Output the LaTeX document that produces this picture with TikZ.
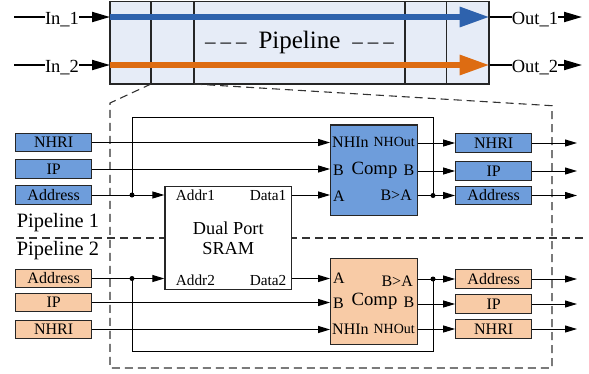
\documentclass[tikz,border=0pt]{standalone}
\usepackage{fontspec}
\setmainfont{Liberation Serif}
\usetikzlibrary{arrows.meta}
\definecolor{pipefill}{HTML}{E6ECF7}
\definecolor{blueline}{HTML}{2E62AD}
\definecolor{orangeline}{HTML}{DD6C12}
\definecolor{bluebox}{HTML}{6E9DDB}
\definecolor{orangebox}{HTML}{F8CBA6}
\definecolor{edge}{HTML}{262626}
\newcommand\fsz[1]{\fontsize{#1}{#1}\selectfont}
\begin{document}
\begin{tikzpicture}[x=1pt,y=-1pt,
  wire/.style={line width=1pt,draw=black},
  tip/.style={-{Triangle[length=12pt,width=7pt]}},
  bigtip/.style={-{Triangle[length=18pt,width=10pt]}},
  regbox/.style={draw=edge,line width=1.2pt,minimum width=76pt,minimum height=18.5pt,inner sep=0pt,font=\fsz{16}},
  bluereg/.style={regbox,fill=bluebox},
  orangereg/.style={regbox,fill=orangebox},
  compbox/.style={draw=edge,line width=1.2pt,minimum width=87pt,inner sep=0pt},
  portlab/.style={inner sep=0pt,font=\fsz{16}},
  smalllab/.style={inner sep=0pt,font=\fsz{14}},
  iolab/.style={inner sep=0pt,font=\fsz{18.5},anchor=base},
  outline/.style={line width=1.1pt,draw=black!80,dash pattern=on 8pt off 5pt},
  dot/.style={circle,fill=black,inner sep=0pt,minimum size=5pt}
]
\useasboundingbox (0,0) rectangle (589,373);

% ---------- top pipeline ----------
\node[draw=edge,line width=1.2pt,fill=pipefill,minimum width=379pt,minimum height=82.5pt,inner sep=0pt] (pipe) at (299.5,42.75) {};
\coordinate (c1t) at (151,1.5); \coordinate (c1b) at (151,84);
\coordinate (c2t) at (194,1.5); \coordinate (c2b) at (194,84);
\coordinate (c3t) at (405,1.5); \coordinate (c3b) at (405,84);
\coordinate (c4t) at (446.7,1.5); \coordinate (c4b) at (446.7,84);
\draw[line width=1.2pt,edge] (c1t) -- (c1b) (c2t) -- (c2b) (c3t) -- (c3b) (c4t) -- (c4b);
\coordinate (r1) at (110,17); \coordinate (r2) at (110,65);
\draw[line width=6pt,blueline,-{Triangle[length=30pt,width=19pt]}] (r1) -- (pipe.east |- r1);
\draw[line width=6pt,orangeline,-{Triangle[length=30pt,width=19pt]}] (r2) -- (pipe.east |- r2);
\node[inner sep=0pt,font=\fsz{25}] (pipetxt) at (299.5,42) {\fsz{21}\textendash\hspace{5pt}\textendash\hspace{5pt}\textendash\hspace{12pt}\fsz{25}Pipeline\hspace{12pt}\fsz{21}\textendash\hspace{5pt}\textendash\hspace{5pt}\textendash};

\node[iolab] (in1) at (62,24.5) {In\_1};
\node[iolab] (in2) at (62,72.5) {In\_2};
\node[iolab] (out1) at (535,24.5) {Out\_1};
\node[iolab] (out2) at (535,72.5) {Out\_2};
\coordinate (in1s) at (14,17); \coordinate (in2s) at (14,65);
\coordinate (out1e) at (582,17); \coordinate (out2e) at (582,65);
\draw[line width=2pt] (in1s) -- (in1.west |- r1);
\draw[line width=2pt,bigtip] (in1.east |- r1) -- (r1);
\draw[line width=2pt] (in2s) -- (in2.west |- r2);
\draw[line width=2pt,bigtip] (in2.east |- r2) -- (r2);
\draw[line width=2pt] (pipe.east |- r1) -- (out1.west |- r1);
\draw[line width=2pt,bigtip] (out1.east |- r1) -- (out1e);
\draw[line width=2pt] (pipe.east |- r2) -- (out2.west |- r2);
\draw[line width=2pt,bigtip] (out2.east |- r2) -- (out2e);

% ---------- zoom outline ----------
\coordinate (o1) at (110,103); \coordinate (o2) at (110,368);
\coordinate (o3) at (552,368); \coordinate (o4) at (552,105.7);
\draw[outline] (c1b) -- (o1) -- (o2) -- (o3) -- (o4) -- (c2b);
\coordinate (sepl) at (16,238); \coordinate (sepr) at (583,238);
\draw[outline] (sepl) -- (sepr);
\node[inner sep=0pt,font=\fsz{20.4},anchor=west] (pl1) at (16.7,222.7) {Pipeline 1};
\node[inner sep=0pt,font=\fsz{20.4},anchor=west] (pl2) at (16.7,250.7) {Pipeline 2};

% ---------- SRAM ----------
\node[draw=edge,line width=1.2pt,fill=white,minimum width=126.7pt,minimum height=102.6pt,inner sep=0pt] (sram) at (228.3,238) {};
\node[inner sep=0pt,font=\fsz{18.3},align=center] (sramtxt) at (228.3,238) {Dual Port\\[2pt]SRAM};
\node[portlab,font=\fsz{15.3},anchor=west] (addr1) at (175.7,195.3) {Addr1};
\node[portlab,font=\fsz{15.3},anchor=east] (data1) at (286.5,195.3) {Data1};
\node[portlab,font=\fsz{15.3},anchor=west] (addr2) at (175.7,280.5) {Addr2};
\node[portlab,font=\fsz{15.3},anchor=east] (data2) at (286.5,280.5) {Data2};

% ---------- Comp boxes ----------
\node[compbox,fill=bluebox,minimum height=90.7pt] (comp1) at (374.2,170.3) {};
\node[inner sep=0pt,font=\fsz{18.7}] (comp1t) at (374.5,170) {Comp};
\node[portlab,anchor=west] (c1nhin) at (332,142) {NHIn};
\node[smalllab,anchor=east] (c1nhout) at (415,142) {NHOut};
\node[portlab,anchor=west] (c1b) at (333,170) {B};
\node[portlab,anchor=east] (c1bo) at (414.5,170) {B};
\node[portlab,anchor=west] (c1a) at (333,196) {A};
\node[portlab,anchor=east] (c1ba) at (412,195) {B>A};

\node[compbox,fill=orangebox,minimum height=86pt] (comp2) at (374.2,301.3) {};
\node[inner sep=0pt,font=\fsz{18.7}] (comp2t) at (374.5,301) {Comp};
\node[portlab,anchor=west] (c2a) at (333,278) {A};
\node[portlab,anchor=east] (c2ba) at (413,281.5) {B>A};
\node[portlab,anchor=west] (c2b) at (333,303) {B};
\node[portlab,anchor=east] (c2bo) at (414.5,302) {B};
\node[portlab,anchor=west] (c2nhin) at (332,329) {NHIn};
\node[smalllab,anchor=east] (c2nhout) at (415,329) {NHOut};

% ---------- registers ----------
\node[bluereg] (iN1) at (53.7,142.5) {NHRI};
\node[bluereg] (iI1) at (53.7,169) {IP};
\node[bluereg] (iA1) at (53.7,195) {Address};
\node[bluereg] (oN1) at (493.7,143) {NHRI};
\node[bluereg] (oI1) at (493.7,171) {IP};
\node[bluereg] (oA1) at (493.7,195.5) {Address};

\node[orangereg] (iA2) at (53.7,278.5) {Address};
\node[orangereg] (iI2) at (53.7,302.5) {IP};
\node[orangereg] (iN2) at (53.7,329.5) {NHRI};
\node[orangereg] (oA2) at (493.7,279) {Address};
\node[orangereg] (oI2) at (493.7,304) {IP};
\node[orangereg] (oN2) at (493.7,329) {NHRI};

% ---------- wires pipeline 1 ----------
\draw[wire,tip] (iN1.east) -- (comp1.west |- iN1);
\draw[wire,tip] (iI1.east) -- (comp1.west |- iI1);
\draw[wire,tip] (iA1.east) -- (sram.west |- iA1);
\draw[wire,tip] (sram.east |- iA1) -- (comp1.west |- iA1);
\node[dot] (d1) at (132,195) {};
\node[dot] (d1r) at (433,195.5) {};
\coordinate (t1) at (132,117.3);
\draw[wire] (d1.center) -- (t1) -| (d1r.center);
\draw[wire,tip] (comp1.east |- oN1) -- (oN1.west);
\draw[wire,tip] (comp1.east |- oI1) -- (oI1.west);
\draw[wire,tip] (comp1.east |- oA1) -- (oA1.west);
\coordinate (e1) at (577,143); \coordinate (e2) at (577,171); \coordinate (e3) at (577,195.5);
\draw[wire,tip] (oN1.east) -- (e1);
\draw[wire,tip] (oI1.east) -- (e2);
\draw[wire,tip] (oA1.east) -- (e3);

% ---------- wires pipeline 2 ----------
\draw[wire,tip] (iA2.east) -- (sram.west |- iA2);
\draw[wire,tip] (sram.east |- iA2) -- (comp2.west |- iA2);
\draw[wire,tip] (iI2.east) -- (comp2.west |- iI2);
\draw[wire,tip] (iN2.east) -- (comp2.west |- iN2);
\node[dot] (d2) at (132,278.5) {};
\node[dot] (d2r) at (433,279) {};
\coordinate (t2) at (132,351.7);
\draw[wire] (d2.center) -- (t2) -| (d2r.center);
\draw[wire,tip] (comp2.east |- oA2) -- (oA2.west);
\draw[wire,tip] (comp2.east |- oI2) -- (oI2.west);
\draw[wire,tip] (comp2.east |- oN2) -- (oN2.west);
\coordinate (f1) at (577,279); \coordinate (f2) at (577,304); \coordinate (f3) at (577,329);
\draw[wire,tip] (oA2.east) -- (f1);
\draw[wire,tip] (oI2.east) -- (f2);
\draw[wire,tip] (oN2.east) -- (f3);
\end{tikzpicture}
\end{document}
